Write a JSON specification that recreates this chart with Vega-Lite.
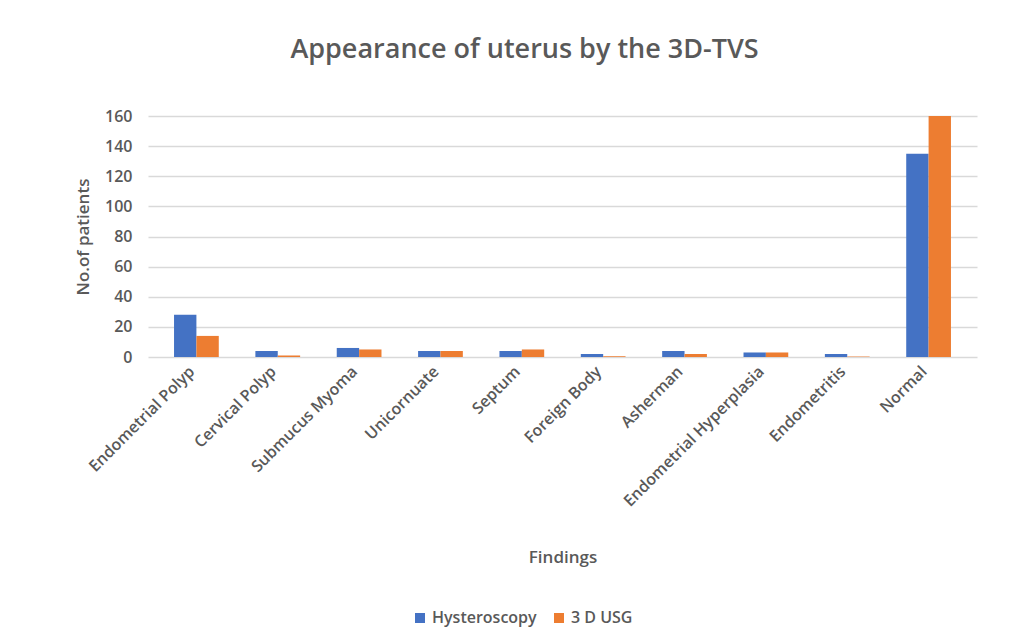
{
  "$schema": "https://vega.github.io/schema/vega-lite/v6.json",
  "autosize": "none",
  "width": 829,
  "height": 241,
  "padding": {"left": 148, "top": 116, "right": 47, "bottom": 286},
  "background": "white",
  "title": {"text": "Appearance of  uterus by the 3D-TVS", "fontSize": 27, "font": "Open Sans", "fontWeight": 600, "color": "#595959", "anchor": "middle", "dx": -38, "offset": 44},
  "data": {"values": [
    {"finding": "Endometrial Polyp", "method": "Hysteroscopy", "n": 28},
    {"finding": "Endometrial Polyp", "method": "3 D USG", "n": 14},
    {"finding": "Cervical Polyp", "method": "Hysteroscopy", "n": 4},
    {"finding": "Cervical Polyp", "method": "3 D USG", "n": 1},
    {"finding": "Submucus Myoma", "method": "Hysteroscopy", "n": 6},
    {"finding": "Submucus Myoma", "method": "3 D USG", "n": 5},
    {"finding": "Unicornuate", "method": "Hysteroscopy", "n": 4},
    {"finding": "Unicornuate", "method": "3 D USG", "n": 4},
    {"finding": "Septum", "method": "Hysteroscopy", "n": 4},
    {"finding": "Septum", "method": "3 D USG", "n": 5},
    {"finding": "Foreign Body", "method": "Hysteroscopy", "n": 2},
    {"finding": "Foreign Body", "method": "3 D USG", "n": 0.5},
    {"finding": "Asherman", "method": "Hysteroscopy", "n": 4},
    {"finding": "Asherman", "method": "3 D USG", "n": 2},
    {"finding": "Endometrial Hyperplasia", "method": "Hysteroscopy", "n": 3},
    {"finding": "Endometrial Hyperplasia", "method": "3 D USG", "n": 3},
    {"finding": "Endometritis", "method": "Hysteroscopy", "n": 2},
    {"finding": "Endometritis", "method": "3 D USG", "n": 0.3},
    {"finding": "Normal", "method": "Hysteroscopy", "n": 135},
    {"finding": "Normal", "method": "3 D USG", "n": 160}
  ]},
  "mark": {"type": "bar", "stroke": null},
  "encoding": {
    "x": {"field": "finding", "type": "nominal", "sort": null,
      "scale": {"paddingInner": 0.45, "paddingOuter": 0.32},
      "axis": {"title": "Findings", "labelAngle": -45, "labelAlign": "right", "labelBaseline": "top", "labelFont": "Open Sans", "labelFontSize": 16, "labelFontWeight": 600, "labelColor": "#595959", "labelLimit": 400, "titleFont": "Open Sans", "titleFontSize": 17, "titleFontWeight": 600, "titleColor": "#595959", "titlePadding": 40, "domain": false, "ticks": false, "labelPadding": 6, "labelOffset": -10}},
    "xOffset": {"field": "method", "type": "nominal", "sort": ["Hysteroscopy", "3 D USG"], "scale": {"paddingInner": 0}},
    "y": {"field": "n", "type": "quantitative", "scale": {"domain": [0, 160], "nice": false},
      "axis": {"title": "No.of patients", "values": [0, 20, 40, 60, 80, 100, 120, 140, 160], "labelFont": "Open Sans", "labelFontSize": 16, "labelFontWeight": 600, "labelColor": "#595959", "titleFont": "Open Sans", "titleFontSize": 17, "titleFontWeight": 600, "titleColor": "#595959", "domain": false, "ticks": false, "labelPadding": 16, "titlePadding": 12, "gridColor": "#d9d9d9", "gridWidth": 1.5}},
    "color": {"field": "method", "type": "nominal", "sort": ["Hysteroscopy", "3 D USG"],
      "scale": {"domain": ["Hysteroscopy", "3 D USG"], "range": ["#4472c4", "#ed7d31"]},
      "legend": {"title": null, "orient": "none", "direction": "horizontal", "legendX": 264, "legendY": 494, "labelFont": "Open Sans", "labelFontSize": 16, "labelFontWeight": 600, "labelColor": "#595959", "symbolType": "square", "symbolSize": 100, "columnPadding": 14}}
  },
  "config": {"view": {"stroke": null}}
}
